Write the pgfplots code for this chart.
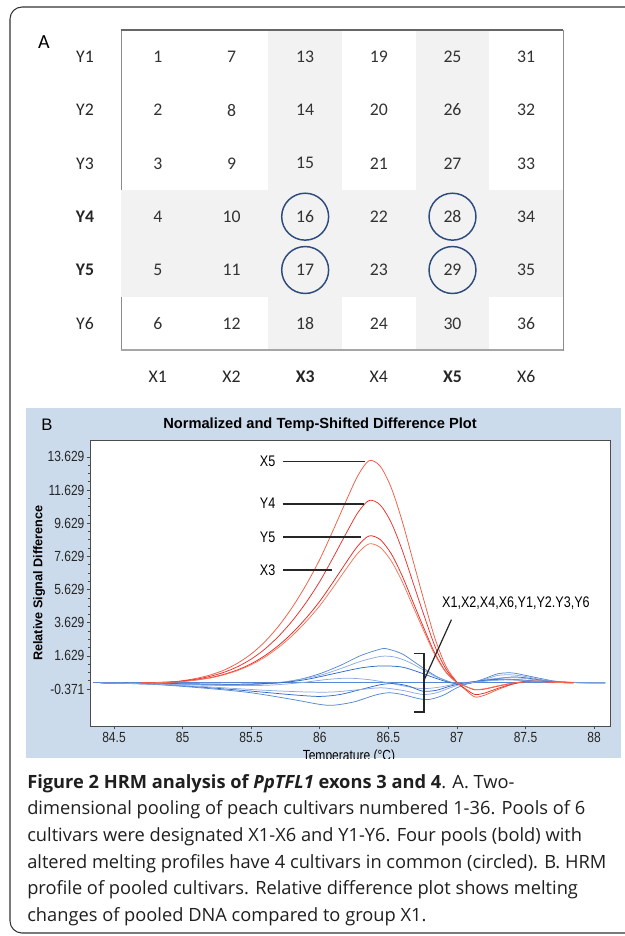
\documentclass[border=0pt]{standalone}
\usepackage{pgfplots}
\pgfplotsset{compat=1.18}
\usepackage{pgfplotstable}
\usepackage{fontspec}
\setmainfont{Open Sans}
\newfontfamily\calfont{Carlito}
\newfontfamily\condfont[FakeStretch=0.82]{Liberation Sans}
\newfontfamily\arialfont{Liberation Sans}
\definecolor{shade}{HTML}{F2F2F2}
\definecolor{circ}{HTML}{2E4B7E}
\definecolor{panelB}{RGB}{204,219,235}
\definecolor{rA}{RGB}{242,90,65}
\definecolor{rB}{RGB}{236,45,38}
\definecolor{rC}{RGB}{232,38,32}
\definecolor{rD}{RGB}{246,115,85}
\definecolor{bDark}{RGB}{45,105,200}
\definecolor{bMed}{RGB}{85,135,212}
\definecolor{bLight}{RGB}{140,170,225}

\pgfplotstableread{
x y lab
1 1 1
1 2 2
1 3 3
1 4 4
1 5 5
1 6 6
2 1 7
2 2 8
2 3 9
2 4 10
2 5 11
2 6 12
3 1 13
3 2 14
3 3 15
3 4 16
3 5 17
3 6 18
4 1 19
4 2 20
4 3 21
4 4 22
4 5 23
4 6 24
5 1 25
5 2 26
5 3 27
5 4 28
5 5 29
5 6 30
6 1 31
6 2 32
6 3 33
6 4 34
6 5 35
6 6 36
}\gridtab

\begin{document}
\begin{tikzpicture}
\useasboundingbox (0,0) rectangle (468.75pt,-702pt);
\clip (0,0) rectangle (468.75pt,-702pt);
\fill[white] (0,0) rectangle (468.75pt,-702pt);
\draw[black!80, line width=0.8pt, rounded corners=9pt] (7.5pt,-5.25pt) rectangle (480pt,-699.75pt);
\node[font=\calfont\fontsize{15}{18}\selectfont] at (33pt,-31.5pt) {A};

% ---------------- Panel A ----------------
\begin{axis}[
  at={(90.75pt,-262.5pt)}, anchor=south west,
  scale only axis, width=331.5pt, height=240pt,
  xmin=0.5, xmax=6.5, ymin=0.5, ymax=6.5, y dir=reverse,
  clip=false,
  axis line style={draw=black!45, line width=0.6pt},
  major tick length=0pt,
  xtick={1,2,3,4,5,6}, ytick={1,2,3,4,5,6},
  xticklabels={X1,X2,\textbf{X3},X4,\textbf{X5},X6},
  yticklabels={Y1,Y2,Y3,\textbf{Y4},\textbf{Y5},Y6},
  ticklabel style={font=\calfont\fontsize{13.3}{15}\selectfont, text=black!85},
  xticklabel style={anchor=center, yshift=-20.25pt},
  yticklabel style={anchor=center, xshift=-27pt},
  every node near coord/.append style={anchor=center, font=\calfont\fontsize{13.3}{15}\selectfont, text=black!80},
]
\addplot[fill=shade, draw=none] coordinates {(2.5,0.5) (3.5,0.5) (3.5,6.5) (2.5,6.5)};
\addplot[fill=shade, draw=none] coordinates {(4.5,0.5) (5.5,0.5) (5.5,6.5) (4.5,6.5)};
\addplot[fill=shade, draw=none] coordinates {(0.5,3.5) (6.5,3.5) (6.5,5.5) (0.5,5.5)};
\addplot[black!60, line width=0.8pt] coordinates {(0.5,0.5) (6.5,0.5)};
\addplot[black!35, line width=1.5pt] coordinates {(0.5,6.5) (6.5,6.5)};
\addplot[draw=none, mark=none, nodes near coords, point meta=explicit symbolic] table[x=x, y=y, meta=lab] {\gridtab};
\addplot[only marks, mark=o, mark size=17.6pt, mark options={draw=circ, line width=1.1pt}] coordinates {(3,4) (5,4) (3,5) (5,5)};
\end{axis}

% ---------------- Panel B ----------------
\fill[panelB] (19.5pt,-306pt) rectangle (465.75pt,-568.5pt);
\node[font=\arialfont\fontsize{12.5}{15}\selectfont] at (35.25pt,-318.75pt) {B};
\node[font=\arialfont\bfseries\fontsize{11}{13}\selectfont] at (240pt,-318.75pt) {Normalized and Temp-Shifted Difference Plot};
\begin{scope}
\clip (19.5pt,-306pt) rectangle (465.75pt,-568.5pt);
\begin{axis}[
  at={(67.5pt,-544.5pt)}, anchor=south west,
  scale only axis, width=390pt, height=214.5pt,
  xmin=84.325, xmax=88.116, ymin=-2.604, ymax=14.645,
  axis background/.style={fill=white},
  axis line style={draw=black!70, line width=0.6pt},
  xtick={84.5,85,85.5,86,86.5,87,87.5,88},
  xticklabels={84.5,85,85.5,86,86.5,87,87.5,88},
  ytick={-0.371,1.629,3.629,5.629,7.629,9.629,11.629,13.629},
  yticklabels={-0.371,1.629,3.629,5.629,7.629,9.629,11.629,13.629},
  minor y tick num=3,
  tick align=outside, xtick pos=bottom, ytick pos=left,
  major tick length=2.5pt, minor tick length=1.5pt,
  tick style={black!70, line width=0.4pt},
  ticklabel style={font=\condfont\fontsize{11}{12}\selectfont, text=black!85},
  yticklabel style={inner sep=1.5pt},
  xticklabel style={inner sep=2pt},
  xlabel={Temperature (°C)},
  ylabel={Relative Signal Difference},
  xlabel style={at={(axis description cs:0.498,-0.106)}, anchor=center, font=\condfont\fontsize{11}{12}\selectfont},
  ylabel style={at={(axis description cs:-0.098,0.5)}, anchor=center, font=\arialfont\bfseries\fontsize{9.5}{11}\selectfont},
  every axis plot/.append style={line width=0.55pt, smooth, mark=none},
]
% X1 reference
\addplot[bMed, line width=0.7pt] coordinates {(84.35,0) (88.08,0)};
% blue group
\addplot[bMed] coordinates {(84.4,0) (84.7,-0.03) (85.0,-0.08) (85.3,-0.12) (85.5,-0.1) (85.7,0.0) (85.85,0.2) (86.0,0.55) (86.15,1.05) (86.3,1.65) (86.45,2.05) (86.5,2.03) (86.6,1.75) (86.7,1.2) (86.78,0.75) (86.86,0.35) (86.95,0.05) (87.02,-0.1) (87.1,-0.02) (87.2,0.25) (87.3,0.55) (87.4,0.6) (87.5,0.45) (87.6,0.28) (87.7,0.12) (87.8,0.04) (87.95,0) (88.08,0)};
\addplot[bLight] coordinates {(84.4,0) (84.7,-0.03) (85.0,-0.07) (85.3,-0.1) (85.5,-0.08) (85.7,0.02) (85.85,0.2) (86.0,0.45) (86.15,0.85) (86.3,1.3) (86.45,1.6) (86.55,1.55) (86.65,1.25) (86.75,0.8) (86.85,0.35) (86.95,0.05) (87.02,-0.08) (87.1,0.0) (87.2,0.2) (87.3,0.45) (87.4,0.48) (87.5,0.38) (87.6,0.22) (87.7,0.1) (87.85,0.02) (88.08,0)};
\addplot[bDark] coordinates {(84.4,0) (85.0,-0.05) (85.4,-0.08) (85.7,0.0) (85.9,0.2) (86.1,0.55) (86.3,0.9) (86.45,1.02) (86.6,0.95) (86.72,0.65) (86.82,0.35) (86.92,0.08) (87.0,-0.05) (87.1,0.0) (87.25,0.2) (87.4,0.35) (87.5,0.3) (87.65,0.12) (87.8,0.03) (88.08,0)};
\addplot[bLight] coordinates {(84.4,0) (84.8,-0.05) (85.2,-0.15) (85.6,-0.15) (85.85,0.0) (86.05,0.2) (86.2,0.28) (86.35,0.2) (86.5,0.0) (86.62,-0.2) (86.75,-0.35) (86.88,-0.25) (87.0,-0.05) (87.15,0.1) (87.3,0.28) (87.45,0.3) (87.6,0.15) (87.75,0.05) (88.08,0)};
\addplot[bDark] coordinates {(84.4,0) (84.8,-0.08) (85.2,-0.3) (85.5,-0.5) (85.8,-0.72) (86.0,-0.82) (86.15,-0.7) (86.3,-0.4) (86.45,-0.1) (86.55,-0.05) (86.65,-0.2) (86.75,-0.5) (86.85,-0.45) (86.95,-0.2) (87.05,-0.02) (87.2,0.15) (87.35,0.22) (87.5,0.15) (87.65,0.05) (88.08,0)};
\addplot[bMed] coordinates {(84.4,0) (84.8,-0.1) (85.2,-0.35) (85.5,-0.6) (85.8,-1.0) (86.0,-1.3) (86.1,-1.35) (86.25,-1.15) (86.4,-0.75) (86.5,-0.6) (86.6,-0.7) (86.72,-0.95) (86.8,-1.0) (86.9,-0.75) (87.0,-0.3) (87.1,0.0) (87.25,0.15) (87.4,0.2) (87.55,0.12) (87.7,0.03) (88.08,0)};
\addplot[bLight] coordinates {(84.4,0) (84.8,-0.08) (85.2,-0.25) (85.6,-0.45) (85.9,-0.55) (86.1,-0.55) (86.3,-0.4) (86.45,-0.3) (86.6,-0.45) (86.75,-0.7) (86.85,-0.6) (86.95,-0.3) (87.05,-0.05) (87.2,0.1) (87.35,0.18) (87.5,0.12) (87.7,0.03) (88.08,0)};
% red group
\addplot[rA] coordinates {(84.7,0) (84.9,0.05) (85.0,0.13) (85.1,0.27) (85.2,0.47) (85.3,0.76) (85.4,1.18) (85.5,1.74) (85.6,2.48) (85.7,3.42) (85.8,4.56) (85.9,5.90) (86.0,7.44) (86.1,9.25) (86.2,11.12) (86.28,12.53) (86.36,13.40) (86.44,13.07) (86.52,11.79) (86.6,9.78) (86.68,7.37) (86.76,4.96) (86.84,2.68) (86.92,1.0) (87.0,0.05) (87.06,-0.4) (87.13,-0.85) (87.2,-0.75) (87.3,-0.4) (87.4,-0.1) (87.5,0.08) (87.6,0.1) (87.7,0.04) (87.85,0)};
\addplot[rB] coordinates {(84.7,0) (84.9,0.04) (85.0,0.11) (85.1,0.22) (85.2,0.39) (85.3,0.63) (85.4,0.97) (85.5,1.43) (85.6,2.04) (85.7,2.81) (85.8,3.74) (85.9,4.84) (86.0,6.11) (86.1,7.59) (86.2,9.13) (86.28,10.29) (86.36,11.0) (86.44,10.73) (86.52,9.68) (86.6,8.03) (86.68,6.05) (86.76,4.07) (86.84,2.2) (86.92,0.83) (87.0,0.03) (87.06,-0.35) (87.13,-0.7) (87.2,-0.62) (87.3,-0.33) (87.4,-0.08) (87.5,0.07) (87.6,0.09) (87.7,0.03) (87.85,0)};
\addplot[rC] coordinates {(84.7,0) (84.9,0.04) (85.0,0.09) (85.1,0.18) (85.2,0.31) (85.3,0.51) (85.4,0.78) (85.5,1.15) (85.6,1.64) (85.7,2.26) (85.8,3.01) (85.9,3.90) (86.0,4.92) (86.1,6.11) (86.2,7.35) (86.28,8.28) (86.36,8.86) (86.44,8.64) (86.52,7.80) (86.6,6.47) (86.68,4.87) (86.76,3.28) (86.84,1.77) (86.92,0.66) (87.0,0.02) (87.06,-0.2) (87.13,-0.42) (87.2,-0.38) (87.3,-0.2) (87.4,-0.03) (87.5,0.08) (87.6,0.1) (87.7,0.04) (87.85,0)};
\addplot[rD] coordinates {(84.7,0) (84.9,0.03) (85.0,0.08) (85.1,0.17) (85.2,0.29) (85.3,0.48) (85.4,0.74) (85.5,1.09) (85.6,1.55) (85.7,2.14) (85.8,2.85) (85.9,3.69) (86.0,4.65) (86.1,5.78) (86.2,6.96) (86.28,7.84) (86.36,8.38) (86.44,8.17) (86.52,7.37) (86.6,6.12) (86.68,4.61) (86.76,3.10) (86.84,1.68) (86.92,0.63) (87.0,0.02) (87.06,-0.2) (87.13,-0.4) (87.2,-0.36) (87.3,-0.18) (87.4,-0.02) (87.5,0.06) (87.6,0.08) (87.7,0.03) (87.85,0)};
% annotations
\addplot[black!85, line width=1.4pt, sharp plot] coordinates {(85.73,13.35) (86.33,13.35)};
\addplot[black!85, line width=1.4pt, sharp plot] coordinates {(85.73,10.81) (86.32,10.81)};
\addplot[black!85, line width=1.4pt, sharp plot] coordinates {(85.73,8.80) (86.30,8.80)};
\addplot[black!85, line width=1.4pt, sharp plot] coordinates {(85.73,6.79) (86.09,6.79)};
\addplot[black!85, line width=1.2pt, sharp plot] coordinates {(86.69,1.76) (86.76,1.76) (86.76,-1.76) (86.69,-1.76)};
\addplot[black!85, line width=0.9pt, sharp plot] coordinates {(86.76,0.15) (86.96,3.81)};
\node[font=\condfont\fontsize{11.5}{13}\selectfont] at (axis cs:85.62,13.35) {X5};
\node[font=\condfont\fontsize{11.5}{13}\selectfont] at (axis cs:85.62,10.81) {Y4};
\node[font=\condfont\fontsize{11.5}{13}\selectfont] at (axis cs:85.62,8.80) {Y5};
\node[font=\condfont\fontsize{11.5}{13}\selectfont] at (axis cs:85.62,6.79) {X3};
\node[font=\condfont\fontsize{11.5}{13}\selectfont] at (axis cs:87.43,4.82) {X1,X2,X4,X6,Y1,Y2.Y3,Y6};
\end{axis}
\end{scope}

% ---------------- Caption ----------------
\begin{scope}[every node/.style={anchor=base west, inner sep=0pt, font=\fontsize{13.7}{16}\selectfont, text=black!88}]
\node at (20.25pt,-591pt) {\textbf{Figure 2 HRM analysis of \textit{PpTFL1} exons 3 and 4}. A. Two-};
\node at (20.25pt,-611.1pt) {dimensional pooling of peach cultivars numbered 1-36. Pools of 6};
\node at (20.25pt,-631.1pt) {cultivars were designated X1-X6 and Y1-Y6. Four pools (bold) with};
\node at (20.25pt,-651.2pt) {altered melting profiles have 4 cultivars in common (circled). B. HRM};
\node at (20.25pt,-671.2pt) {profile of pooled cultivars. Relative difference plot shows melting};
\node at (20.25pt,-691.3pt) {changes of pooled DNA compared to group X1.};
\end{scope}
\end{tikzpicture}
\end{document}
